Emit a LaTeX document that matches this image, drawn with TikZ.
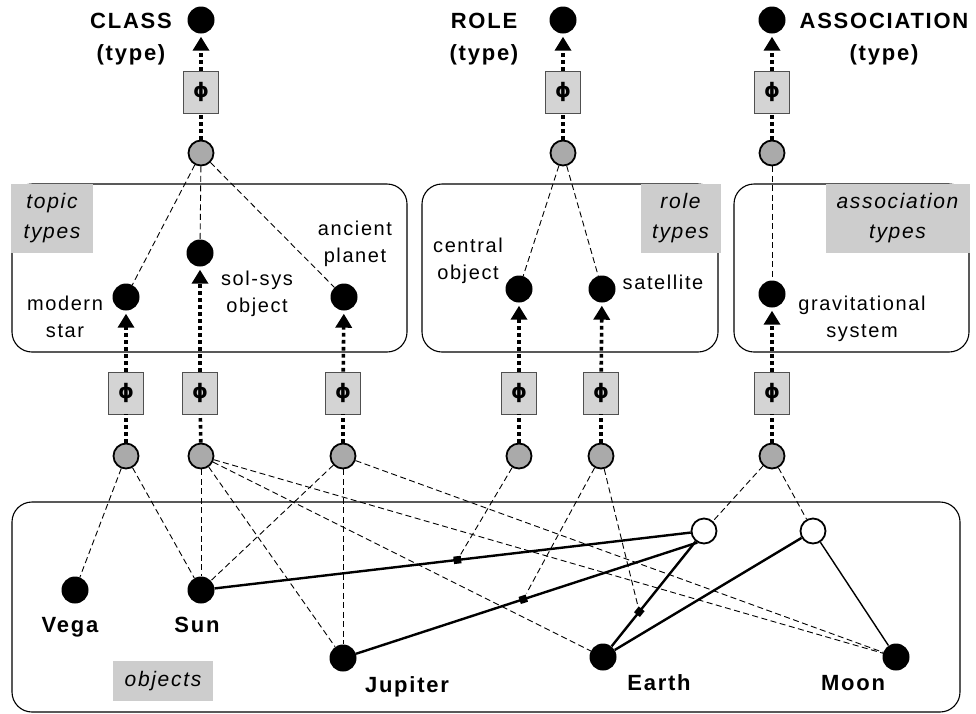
\documentclass[tikz,border=0pt]{standalone}
\usepackage{fontspec}
\setmainfont{Liberation Sans}
\newfontfamily\lblfont[LetterSpace=8]{Liberation Sans}
\newfontfamily\phifont{DejaVu Sans}
\usetikzlibrary{arrows.meta}
\definecolor{circgray}{RGB}{170,170,170}
\definecolor{phigray}{RGB}{212,212,212}
\definecolor{labgray}{RGB}{205,205,205}
\definecolor{phiedge}{RGB}{80,80,80}
\begin{document}
\begin{tikzpicture}[x=1pt,y=-1pt,
 blk/.style={circle,fill=black,minimum size=27pt,inner sep=0},
 gry/.style={circle,draw=black,line width=1.8pt,fill=circgray,minimum size=25pt,inner sep=0},
 wht/.style={circle,draw=black,line width=1.8pt,fill=white,minimum size=25pt,inner sep=0},
 phibox/.style={rectangle,draw=phiedge,line width=0.9pt,fill=phigray,minimum width=35pt,minimum height=42pt,inner sep=0,font=\phifont\bfseries\fontsize{20}{20}\selectfont},
 frame/.style={draw=black,line width=1.1pt,rounded corners=20pt},
 tag/.style={fill=labgray,inner sep=0,font=\lblfont\itshape\fontsize{21}{30}\selectfont,align=center},
 lbl/.style={font=\lblfont\fontsize{20}{27}\selectfont,align=center,inner sep=0,anchor=base},
 blbl/.style={font=\lblfont\bfseries\fontsize{22}{32}\selectfont,align=center,inner sep=0,anchor=base},
 dots/.style={line width=3.6pt,dash pattern=on 3.6pt off 3.4pt},
 dotarr/.style={dots,-{Triangle[width=16pt,length=14pt]},shorten >=3pt},
 dsh/.style={line width=0.9pt,dash pattern=on 6pt off 3.5pt},
 rel/.style={line width=2.4pt},
 mk/.style={rectangle,fill=black,minimum size=7.5pt,inner sep=0,sloped},
]
\useasboundingbox[fill=white] (0,0) rectangle (976,713);

% frames
\draw[frame] (12,184) rectangle (407,352);
\draw[frame] (422,184) rectangle (718,352);
\draw[frame] (734,184) rectangle (969,352);
\draw[frame] (12,502) rectangle (960,712);
\node[tag,minimum width=82pt,minimum height=69pt] (tagtopic) at (52,218.5) {topic\\types};
\node[tag,minimum width=80pt,minimum height=69pt] (tagrole) at (680.5,218.5) {role\\types};
\node[tag,minimum width=144pt,minimum height=69pt] (tagassoc) at (897.5,218.5) {association\\types};
\node[tag,minimum width=100pt,minimum height=40pt] (tagobj) at (163,681) {objects};

% top type nodes
\node[blk] (class) at (201,20) {};
\node[blk] (role) at (563,20) {};
\node[blk] (assoc) at (772,20) {};
\node[blbl] (tclass) at (131,60) {CLASS\\(type)};
\node[blbl] (trole) at (484,60) {ROLE\\(type)};
\node[blbl] (tassoc) at (884,60) {ASSOCIATION\\(type)};

\node[phibox] (pc) at (201,92) {ϕ};
\node[phibox] (pr) at (563,92) {ϕ};
\node[phibox] (pa) at (772,92) {ϕ};
\node[gry] (gc) at (201,153) {};
\node[gry] (gr) at (563,153) {};
\node[gry] (ga) at (772,153) {};

% topic / role / association types
\node[blk] (ms) at (126,297) {};
\node[blk] (ss) at (200,253) {};
\node[blk] (ap) at (344,297) {};
\node[blk] (co) at (519,289) {};
\node[blk] (sat) at (602,289) {};
\node[blk] (gs) at (772,294) {};
\node[lbl] (tms) at (65,337) {modern\\star};
\node[lbl] (tss) at (257,312) {sol-sys\\object};
\node[lbl] (tap) at (355,262) {ancient\\planet};
\node[lbl] (tco) at (468,279) {central\\object};
\node[lbl] (tsat) at (663,289) {satellite};
\node[lbl] (tgs) at (862,337) {gravitational\\system};

\node[phibox] (pms) at (126,393) {ϕ};
\node[phibox] (pss) at (200,393) {ϕ};
\node[phibox] (pap) at (343,393) {ϕ};
\node[phibox] (pco) at (519,393) {ϕ};
\node[phibox] (psat) at (601,393) {ϕ};
\node[phibox] (pgs) at (772,393) {ϕ};
\node[gry] (gms) at (126,456) {};
\node[gry] (gss) at (201,456) {};
\node[gry] (gap) at (343,456) {};
\node[gry] (gco) at (519,456) {};
\node[gry] (gsat) at (601,456) {};
\node[gry] (ggs) at (772,456) {};

% objects
\node[blk] (vega) at (75,590) {};
\node[blk] (sun) at (201,590) {};
\node[blk] (jup) at (343,658) {};
\node[blk] (earth) at (603,657) {};
\node[blk] (moon) at (896,657) {};
\node[wht] (a1) at (704,531) {};
\node[wht] (a2) at (813,531) {};
\node[blbl] (tvega) at (70,632) {Vega};
\node[blbl] (tsun) at (197,632) {Sun};
\node[blbl] (tjup) at (407,692) {Jupiter};
\node[blbl] (tearth) at (659,690) {Earth};
\node[blbl] (tmoon) at (853,690) {Moon};

% dotted instance-of arrows
\foreach \g/\p/\t in {gc/pc/class,gr/pr/role,ga/pa/assoc,gms/pms/ms,gss/pss/ss,gap/pap/ap,gco/pco/co,gsat/psat/sat,ggs/pgs/gs}{
  \draw[dots] (\g) -- (\p);
  \draw[dotarr] (\p) -- (\t);
}

% dashed lines type level
\draw[dsh] (gc) -- (ms);
\draw[dsh] (gc) -- (ss);
\draw[dsh] (gc) -- (ap);
\draw[dsh] (gr) -- (co);
\draw[dsh] (gr) -- (sat);
\draw[dsh] (ga) -- (gs);

% association edges
\draw[rel] (sun) -- node[mk,pos=.51] (m1) {} (a1);
\draw[rel] (jup) -- node[mk,pos=.49] (m2) {} (a1.240);
\draw[rel] (earth) -- node[mk,pos=.33] (m3) {} (a1);
\draw[rel] (earth) -- (a2);
\draw[line width=1.4pt] (a2) -- (moon);

% dashed lines instance level
\draw[dsh] (gms) -- (vega);
\draw[dsh] (gms) -- (sun);
\draw[dsh] (gss) -- (sun);
\draw[dsh] (gss) -- (jup);
\draw[dsh] (gss) -- (earth);
\draw[dsh] (gss) -- (moon);
\draw[dsh] (gap) -- (sun);
\draw[dsh] (gap) -- (jup);
\draw[dsh] (gap) -- (moon);
\draw[dsh] (gco) -- (m1);
\draw[dsh] (gsat) -- (m2);
\draw[dsh] (gsat) -- (m3);
\draw[dsh] (ggs) -- (a1);
\draw[dsh] (ggs) -- (a2);
\end{tikzpicture}
\end{document}
